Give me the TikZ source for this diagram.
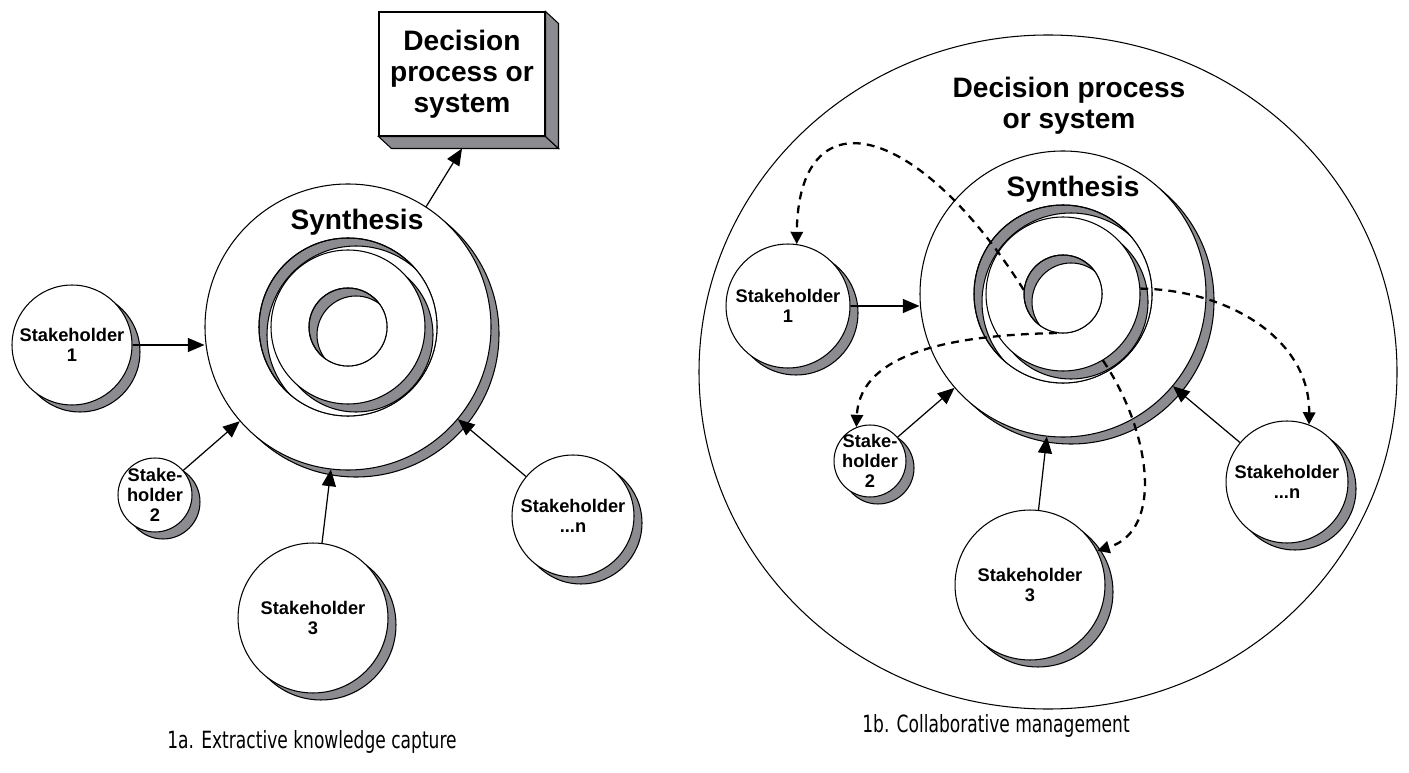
\documentclass[tikz,border=0pt]{standalone}
\usepackage{fontspec}
\usetikzlibrary{positioning, shadows, arrows.meta}
\newfontfamily\arialfont{Liberation Sans}
\newfontfamily\capfont{DejaVu Sans}[FakeStretch=0.72]
\definecolor{shadegray}{RGB}{140,140,144}

\begin{document}
\begin{tikzpicture}[x=0.02cm, y=-0.02cm, line width=0.6pt,
    holder/.style={circle, draw, fill=white, inner sep=0pt, minimum size=#1,
      copy shadow={shadow xshift=0.16cm, shadow yshift=-0.14cm, fill=shadegray, draw=black}},
    tag/.style={font=\arialfont\bfseries\fontsize{10.4}{11.5}\selectfont, align=center},
    heading/.style={font=\arialfont\bfseries\fontsize{16}{17.6}\selectfont, align=center},
    hub/.style={circle, inner sep=0pt, minimum size=#1},
    feed/.style={-{Triangle[length=9.5pt, width=8pt]}, line width=0.7pt},
    loopback/.style={-{Triangle[length=7pt, width=7pt]}, line width=1.3pt, dash pattern=on 4.5pt off 3.5pt},
    caption/.style={font=\capfont\fontsize{13.5}{15}\selectfont, anchor=base}]
  \useasboundingbox (0,0) rectangle (1409,773);

  % outer region of 1b
  \filldraw[fill=white] (1048,372) ellipse [x radius=349, y radius=337];

  % the two synthesis discs with their sunk rings
  \foreach \cx/\cy in {348/327, 1063/294} {
    \begin{scope}[shift={(\cx,\cy)}]
      \filldraw[fill=shadegray] (8,7) circle [radius=143];
      \filldraw[fill=white] (0,0) circle [radius=143];
      \filldraw[fill=shadegray] (0,0) circle [radius=89];
      \begin{scope}
        \clip (0,0) circle [radius=89];
        \filldraw[fill=white] (8,8) circle [radius=89];
        \filldraw[fill=shadegray] (8,8) circle [radius=77];
      \end{scope}
      \draw (0,0) circle [radius=89];
      \filldraw[fill=white] (0,0) circle [radius=77];
      \filldraw[fill=shadegray] (0,0) circle [radius=39];
      \begin{scope}
        \clip (0,0) circle [radius=39];
        \filldraw[fill=white] (8,8) circle [radius=39];
      \end{scope}
      \draw (0,0) circle [radius=39];
    \end{scope}
  }

  \node[hub=5.72cm] (lsyn) at (348,327) {};
  \node[hub=5.72cm] (rsyn) at (1063,294) {};
  \node[hub=1.56cm] (rcore) at (1063,294) {};
  \node[hub=3.08cm] (rplug) at (1063,294) {};
  \node[heading, anchor=base] (lsynlabel) at (357,230) {Synthesis};
  \node[heading, anchor=base] (rsynlabel) at (1073,197) {Synthesis};
  \node[heading] (rdec) at (1069,106) {Decision process\\or system};

  % decision box of 1a
  \node[draw, fill=white, minimum width=3.32cm, minimum height=2.48cm, heading] (ldec) at (462,74) {Decision\\process or\\system};
  \filldraw[fill=shadegray] (ldec.south west) -- (ldec.south east) -- ++(13,12) -- ([shift={(13,12)}]ldec.south west) -- cycle;
  \filldraw[fill=shadegray] (ldec.north east) -- ++(13,12) -- ([shift={(13,12)}]ldec.south east) -- (ldec.south east) -- cycle;

  % stakeholders
  \node[holder=2.4cm, label={[tag]center:Stakeholder\\1}] (ls1) at (72,345) {};
  \node[holder=1.48cm, label={[tag]center:Stake-\\holder\\2}] (ls2) at (155,495) {};
  \node[holder=3cm, label={[tag]center:Stakeholder\\3}] (ls3) at (313,618) {};
  \node[holder=2.44cm, label={[tag]center:Stakeholder\\...n}] (lsn) at (573,516) {};
  \node[holder=2.48cm, label={[tag]center:Stakeholder\\1}] (rs1) at (788,306) {};
  \node[holder=1.44cm, label={[tag]center:Stake-\\holder\\2}] (rs2) at (870,461) {};
  \node[holder=3cm, label={[tag]center:Stakeholder\\3}] (rs3) at (1030,585) {};
  \node[holder=2.44cm, label={[tag]center:Stakeholder\\...n}] (rsn) at (1287,482) {};

  % feedback loops of 1b
  \draw[loopback] (rcore.174) .. controls (915,118) and (798,95) .. (rs1.82);
  \draw[loopback] (rcore.261) .. controls (960,335) and (860,350) .. (rs2.112);
  \draw[loopback] (rplug.-59) .. controls (1150,430) and (1165,530) .. (rs3.27);
  \draw[loopback] (rplug.4) .. controls (1230,290) and (1310,340) .. (rsn.69);

  \draw[feed] (ls1.east) -- (ls1.east -| lsyn.west);
  \draw[feed] (ls2) -- (lsyn);
  \draw[feed] (ls3) -- (lsyn);
  \draw[feed] (lsn) -- (lsyn);
  \draw[feed] (lsyn.57) -- ([yshift=-0.24cm]ldec.south);

  \draw[feed] (rs1.east) -- (rs1.east -| rsyn.west);
  \draw[feed] (rs2) -- (rsyn);
  \draw[feed] (rs3) -- (rsyn);
  \draw[feed] (rsn) -- (rsyn);

  \node[caption] (capa) at (312,748) {1a. Extractive knowledge capture};
  \node[caption] (capb) at (996,732) {1b. Collaborative management};
\end{tikzpicture}
\end{document}
